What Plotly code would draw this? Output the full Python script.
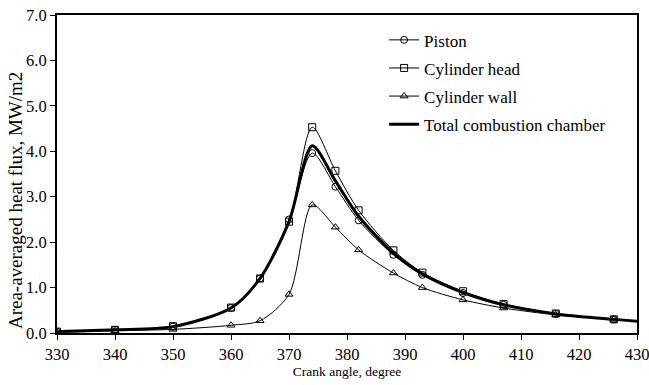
import plotly.graph_objects as go

angle = [330, 340, 350, 360, 365, 370, 374, 378, 382, 388, 393, 400, 407, 416, 426]
piston = [0.03, 0.07, 0.14, 0.55, 1.20, 2.50, 3.96, 3.22, 2.48, 1.72, 1.28, 0.88, 0.62, 0.42, 0.30]
head = [0.03, 0.07, 0.15, 0.56, 1.20, 2.45, 4.53, 3.57, 2.70, 1.82, 1.33, 0.92, 0.64, 0.43, 0.30]
wall = [0.02, 0.05, 0.08, 0.17, 0.27, 0.85, 2.82, 2.33, 1.83, 1.32, 1.00, 0.73, 0.55, 0.40, 0.30]
total_angle = [330, 340, 350, 360, 365, 370, 374, 378, 382, 388, 393, 400, 407, 416, 426, 430]
total = [0.03, 0.07, 0.14, 0.55, 1.20, 2.45, 4.12, 3.35, 2.57, 1.76, 1.30, 0.89, 0.62, 0.42, 0.30, 0.26]

FAM = "Liberation Serif, Times New Roman, serif"
tick_font = dict(family=FAM, size=16.5, color="black")
legend_font = dict(family=FAM, size=17, color="black")
xtitle_font = dict(family=FAM, size=13.5, color="black")
ytitle_font = dict(family=FAM, size=19, color="black")

fig = go.Figure()
common = dict(mode="lines+markers", line=dict(color="black", width=1, shape="spline", smoothing=0.8))
fig.add_trace(go.Scatter(x=angle, y=piston, name="Piston", legendgroup="a",
                         marker=dict(symbol="circle-open", size=7, color="black", line=dict(width=1)), **common))
fig.add_trace(go.Scatter(x=angle, y=head, name="Cylinder head", legendgroup="b",
                         marker=dict(symbol="square-open", size=7, color="black", line=dict(width=1)), **common))
fig.add_trace(go.Scatter(x=angle, y=wall, name="Cylinder wall", legendgroup="c",
                         marker=dict(symbol="triangle-up-open", size=7, color="black", line=dict(width=1)), **common))
fig.add_trace(go.Scatter(x=total_angle, y=total, name="Total combustion chamber", legendgroup="d",
                         mode="lines", line=dict(color="black", width=3, shape="spline", smoothing=0.8)))

fig.update_layout(
    width=649, height=385,
    margin=dict(l=57, r=12, t=15, b=52),
    paper_bgcolor="white", plot_bgcolor="white",
    font=tick_font,
    legend=dict(x=0.564, y=0.977, xanchor="left", yanchor="top", bgcolor="rgba(0,0,0,0)",
                tracegroupgap=3, itemwidth=30, font=legend_font),
    xaxis=dict(range=[330, 430], tickmode="array", tickvals=list(range(330, 431, 10)),
               showgrid=False, zeroline=False, showline=True, linecolor="black", linewidth=2,
               mirror=True, ticks="outside", ticklen=5, tickcolor="black", tickfont=tick_font,
               automargin=False, ticklabeloverflow="allow",
               title=dict(text="Crank angle, degree", font=xtitle_font, standoff=3)),
    yaxis=dict(range=[0, 7], tickmode="array", tickvals=[0, 1, 2, 3, 4, 5, 6, 7], tickformat=".1f",
               showgrid=False, zeroline=False, showline=True, linecolor="black", linewidth=2,
               mirror=True, ticks="outside", ticklen=5, tickcolor="black", tickfont=tick_font,
               automargin=False, ticklabeloverflow="allow"),
    annotations=[dict(text="Area-averaged heat flux, MW/m2", textangle=-90, showarrow=False,
                      xref="paper", yref="paper", x=-0.0723, y=0.415,
                      xanchor="center", yanchor="middle", font=ytitle_font)],
)

fig.write_html("out.html")
